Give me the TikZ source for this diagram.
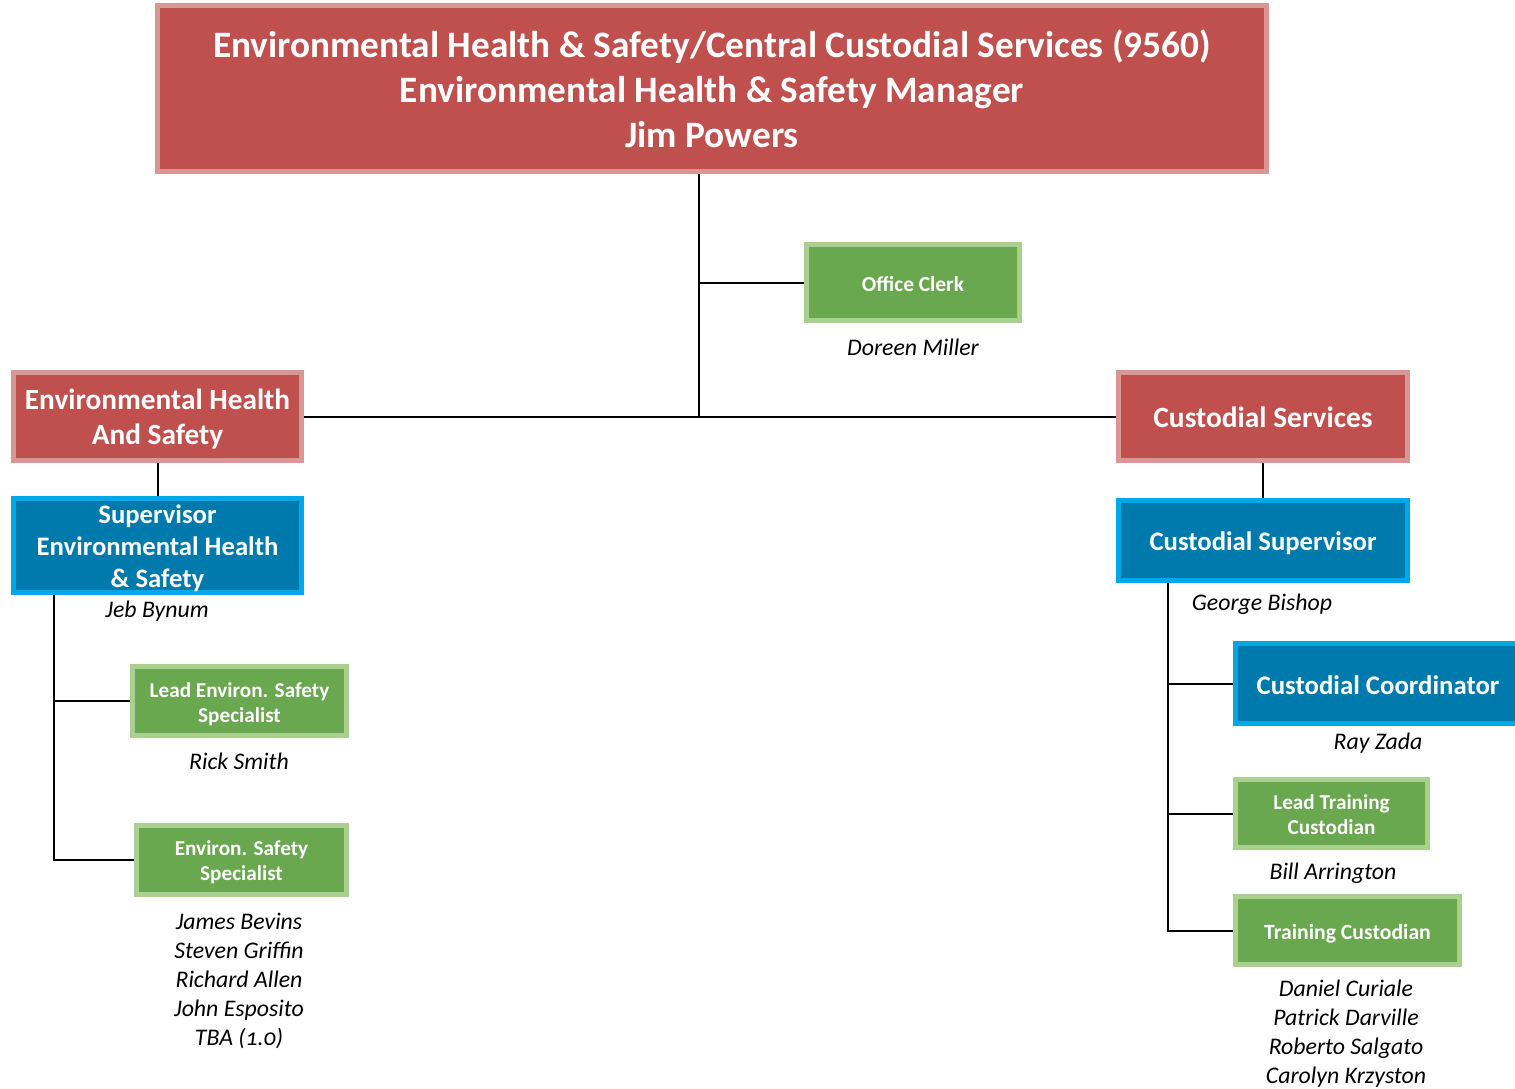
\documentclass[tikz,border=0pt]{standalone}
\usepackage{fontspec}
\setmainfont{Carlito}
\usetikzlibrary{positioning}
\definecolor{redfill}{HTML}{C0504D}
\definecolor{redline}{HTML}{D99694}
\definecolor{greenfill}{HTML}{6AA84F}
\definecolor{greenline}{HTML}{AAD08F}
\definecolor{bluefill}{HTML}{0079AC}
\definecolor{blueline}{HTML}{00A8E8}
\newcommand{\lowr}[2]{\raisebox{0pt}[\dimexpr\height+#1pt\relax]{#2}}
\tikzset{
  box/.style={rectangle, line width=5pt, inner sep=0pt, align=center, text=white, font=\bfseries},
  redbox/.style={box, fill=redfill, draw=redline},
  greenbox/.style={box, fill=greenfill, draw=greenline},
  bluebox/.style={box, fill=bluefill, draw=blueline},
  person/.style={inner sep=0pt, align=center, font=\itshape\fontsize{23.8}{29}\selectfont},
  conn/.style={line width=2pt, black}
}
\begin{document}
\begin{tikzpicture}[x=1pt,y=-1pt]
\useasboundingbox[fill=white] (0,0) rectangle (1515,1089);
% boxes
\node[redbox, minimum width=1109, minimum height=166, font=\bfseries\fontsize{37.3}{45}\selectfont] (top) at (712,88.5)
  {Environmental Health \& Safety/Central Custodial Services (9560)\\Environmental Health \& Safety Manager\\Jim Powers};
\node[greenbox, minimum width=213, minimum height=76, font=\bfseries\fontsize{21.4}{25}\selectfont] (clerk) at (913,282.5) {\lowr{4}{Office Clerk}};
\node[redbox, minimum width=288, minimum height=88, font=\bfseries\fontsize{29.3}{35}\selectfont] (ehs) at (157.5,416.5) {\lowr{6}{Environmental Health}\\And Safety};
\node[redbox, minimum width=289, minimum height=88, font=\bfseries\fontsize{29.4}{35}\selectfont] (cs) at (1263,416.5) {\lowr{2}{Custodial Services}};
\node[bluebox, minimum width=288, minimum height=94, font=\bfseries\fontsize{26.7}{32}\selectfont] (sup) at (157.5,545.5) {\lowr{6}{Supervisor}\\Environmental Health\\\& Safety};
\node[bluebox, minimum width=289, minimum height=80, font=\bfseries\fontsize{26.7}{32}\selectfont] (csup) at (1263,540.5) {\lowr{6}{Custodial Supervisor}};
\node[greenbox, minimum width=214, minimum height=69, font=\bfseries\fontsize{21.2}{25}\selectfont] (lead) at (239.5,701) {\lowr{6}{Lead Environ. Safety}\\Specialist};
\node[greenbox, minimum width=210, minimum height=69, font=\bfseries\fontsize{21.2}{25}\selectfont] (spec) at (241.5,860) {\lowr{4}{Environ. Safety}\\Specialist};
\node[bluebox, minimum width=285, minimum height=80, font=\bfseries\fontsize{26.8}{32}\selectfont] (coord) at (1378,683.5) {\lowr{4}{Custodial Coordinator}};
\node[greenbox, minimum width=192, minimum height=68, font=\bfseries\fontsize{21.2}{25}\selectfont] (ltc) at (1331.5,813.5) {\lowr{2}{Lead Training}\\Custodian};
\node[greenbox, minimum width=224, minimum height=68, font=\bfseries\fontsize{21.7}{25}\selectfont] (tc) at (1347.5,930.5) {\lowr{6}{Training Custodian}};
% names
\node[person] (n1) at (913,347) {Doreen Miller};
\node[person] (n2) at (157,611) {Jeb Bynum};
\node[person] (n3) at (1262,604) {George Bishop};
\node[person] (n4) at (239,761) {Rick Smith};
\node[person, anchor=north] (n5) at (239,913) {James Bevins\\Steven Griffin\\Richard Allen\\John Esposito\\TBA ({\addfontfeatures{Numbers=OldStyle}1.0})};
\node[person] (n6) at (1378,743) {Ray Zada};
\node[person] (n7) at (1333,873) {Bill Arrington};
\node[person, anchor=north] (n8) at (1346,980) {Daniel Curiale\\Patrick Darville\\Roberto Salgato\\Carolyn Krzyston};
% connectors
\coordinate (trunk) at (699,174);
\draw[conn] (ehs.east) -- (cs.west);
\draw[conn] (trunk |- top.south) -- (trunk |- ehs.east);
\draw[conn] (trunk |- clerk.west) -- (clerk.west);
\draw[conn] (ehs.south) -- (sup.north);
\draw[conn] (cs.south) -- (csup.north);
\coordinate (lt) at (54,595);
\draw[conn] (lt) |- (spec.west);
\draw[conn] (lt |- lead.west) -- (lead.west);
\coordinate (rt) at (1168,583);
\draw[conn] (rt) |- (tc.west);
\draw[conn] (rt |- coord.west) -- (coord.west);
\draw[conn] (rt |- ltc.west) -- (ltc.west);
\end{tikzpicture}
\end{document}
